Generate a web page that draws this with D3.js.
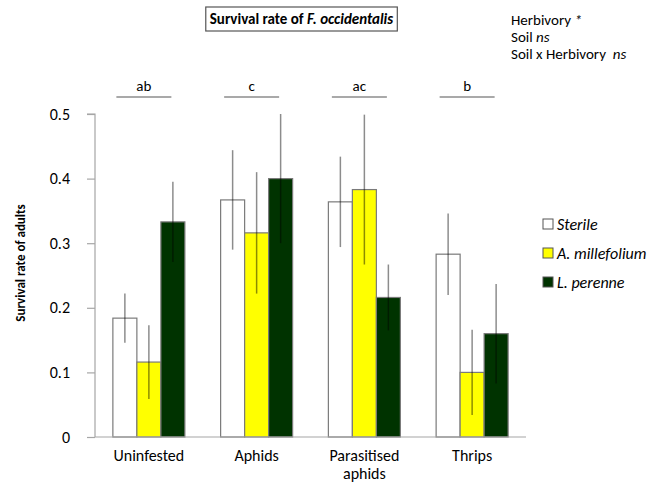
<!DOCTYPE html>
<html>
<head>
<meta charset="utf-8">
<script src="https://cdn.jsdelivr.net/npm/d3@7"></script>
<style>
  html, body { margin: 0; padding: 0; background: #fff; }
  svg { display: block; font-family: Carlito, Lato, "Liberation Sans", sans-serif; }
</style>
</head>
<body>
<svg id="chart" width="651" height="483"></svg>
<script>
// Herbivory treatments (x categories) and soil treatments (bar series)
const categories = ["Uninfested", "Aphids", "Parasitised aphids", "Thrips"];
const categoryLines = [["Uninfested"], ["Aphids"], ["Parasitised", "aphids"], ["Thrips"]];
const series = ["Sterile", "A. millefolium", "L. perenne"];

// Mean survival rate per category, one array per soil treatment
const sterile     = [0.184, 0.367, 0.364, 0.283];
const millefolium = [0.116, 0.316, 0.383, 0.100];
const perenne     = [0.333, 0.400, 0.216, 0.160];

// Standard errors (symmetric)
const sterileErr     = [0.038, 0.077, 0.070, 0.063];
const millefoliumErr = [0.057, 0.094, 0.116, 0.066];
const perenneErr     = [0.062, 0.100, 0.051, 0.077];

// Post-hoc groupings above each herbivory treatment
const letters = ["ab", "c", "ac", "b"];

const yTicks = [0, 0.1, 0.2, 0.3, 0.4, 0.5];
const yTickLabels = ["0", "0.1", "0.2", "0.3", "0.4", "0.5"];

const stats = [
  { label: "Herbivory", sig: "*" },
  { label: "Soil", sig: "ns" },
  { label: "Soil x Herbivory ", sig: "ns" }
];

const seriesValues = [sterile, millefolium, perenne];
const seriesErrors = [sterileErr, millefoliumErr, perenneErr];
const fills = ["#ffffff", "#ffff00", "#003300"];

const svg = d3.select("#chart");

const plot = { left: 95, right: 526, top: 114, bottom: 437 };

const x = d3.scaleBand().domain(categories).range([plot.left, plot.right]).padding(0);
const groupWidth = 72;
const xs = d3.scaleBand().domain(series).range([0, groupWidth]).padding(0);
const y = d3.scaleLinear().domain([0, 0.5]).range([plot.bottom, plot.top]);

// Y axis
const yAxis = d3.axisLeft(y)
  .tickValues(yTicks)
  .tickFormat((d, i) => yTickLabels[i])
  .tickSize(8)
  .tickPadding(17);

const gy = svg.append("g")
  .attr("transform", `translate(${plot.left},0)`)
  .call(yAxis);
gy.select(".domain").attr("stroke", "#a6a6a6").attr("stroke-width", 1.2)
  .attr("d", `M-8,${y(0.5)}H0V${y(0)}`);
gy.selectAll(".tick line").attr("stroke", "#a6a6a6").attr("stroke-width", 1.2);
gy.selectAll(".tick text")
  .attr("fill", "#000")
  .style("font-size", "16px")
  .style("font-family", "Carlito, Lato, 'Liberation Sans', sans-serif");

// Bars
const rows = [];
categories.forEach((c, ci) => {
  series.forEach((s, si) => {
    rows.push({ c, s, si, v: seriesValues[si][ci], e: seriesErrors[si][ci] });
  });
});

const groupX = c => x(c) + (x.bandwidth() - groupWidth) / 2;

svg.append("g").selectAll("rect")
  .data(rows)
  .join("rect")
  .attr("x", d => groupX(d.c) + xs(d.s))
  .attr("y", d => y(d.v))
  .attr("width", xs.bandwidth())
  .attr("height", d => y(0) - y(d.v))
  .attr("fill", d => fills[d.si])
  .attr("stroke", "#7a7a7a")
  .attr("stroke-width", 1.2);

// X baseline
svg.append("line")
  .attr("x1", plot.left).attr("x2", plot.right)
  .attr("y1", y(0)).attr("y2", y(0))
  .attr("stroke", "#a6a6a6").attr("stroke-width", 1.2);

// Error bars
svg.append("g").selectAll("line")
  .data(rows)
  .join("line")
  .attr("x1", d => groupX(d.c) + xs(d.s) + xs.bandwidth() / 2)
  .attr("x2", d => groupX(d.c) + xs(d.s) + xs.bandwidth() / 2)
  .attr("y1", d => y(d.v + d.e))
  .attr("y2", d => y(d.v - d.e))
  .attr("stroke", "#000")
  .attr("stroke-opacity", 0.45)
  .attr("stroke-width", 1.5);

// Category labels
const xl = svg.append("g").selectAll("text")
  .data(categories)
  .join("text")
  .attr("x", c => x(c) + x.bandwidth() / 2)
  .attr("y", 461)
  .attr("text-anchor", "middle")
  .style("font-size", "16px");
xl.selectAll("tspan")
  .data((c, i) => categoryLines[i])
  .join("tspan")
  .attr("x", function () { return d3.select(this.parentNode).attr("x"); })
  .attr("dy", (d, i) => i === 0 ? 0 : 18)
  .text(d => d);

// Significance letters with bars
const letterG = svg.append("g");
letters.forEach((l, i) => {
  const cx = x(categories[i]) + x.bandwidth() / 2 - 5;
  letterG.append("line")
    .attr("x1", cx - 27.5).attr("x2", cx + 27.5)
    .attr("y1", 97).attr("y2", 97)
    .attr("stroke", "#555").attr("stroke-width", 1.2);
  letterG.append("text")
    .attr("x", cx).attr("y", 91)
    .attr("text-anchor", "middle")
    .style("font-size", "15px")
    .text(l);
});

// Y axis title
svg.append("text")
  .attr("transform", "translate(25,263) rotate(-90)")
  .attr("text-anchor", "middle")
  .style("font-size", "13px")
  .style("font-weight", "bold")
  .text("Survival rate of adults");

// Chart title in a box
const titleG = svg.append("g");
const titleBox = titleG.append("rect");
const title = titleG.append("text")
  .attr("x", 301.5).attr("y", 24)
  .attr("text-anchor", "middle")
  .style("font-size", "15px")
  .style("font-weight", "bold");
title.append("tspan").text("Survival rate of ");
title.append("tspan").style("font-style", "italic").text("F. occidentalis");
const tb = title.node().getBBox();
titleBox
  .attr("x", tb.x - 4).attr("y", 7)
  .attr("width", tb.width + 8).attr("height", 24)
  .attr("fill", "#fff")
  .attr("stroke", "#555").attr("stroke-width", 1.2);

// Statistics summary
const st = svg.append("g").selectAll("text")
  .data(stats)
  .join("text")
  .attr("x", 511)
  .attr("y", (d, i) => 25 + i * 17)
  .style("font-size", "15px")
  .attr("xml:space", "preserve");
st.append("tspan").text(d => d.label + " ");
st.append("tspan").style("font-style", "italic").text(d => d.sig);

// Legend
const legend = svg.append("g").selectAll("g")
  .data(series)
  .join("g")
  .attr("transform", (d, i) => `translate(543,${224 + i * 29})`);
legend.append("rect")
  .attr("x", 0).attr("y", -5)
  .attr("width", 10).attr("height", 10)
  .attr("fill", (d, i) => fills[i])
  .attr("stroke", "#555").attr("stroke-width", 1);
legend.append("text")
  .attr("x", 14).attr("y", 5.5)
  .style("font-size", "16px")
  .style("font-style", "italic")
  .text(d => d);
</script>
</body>
</html>
